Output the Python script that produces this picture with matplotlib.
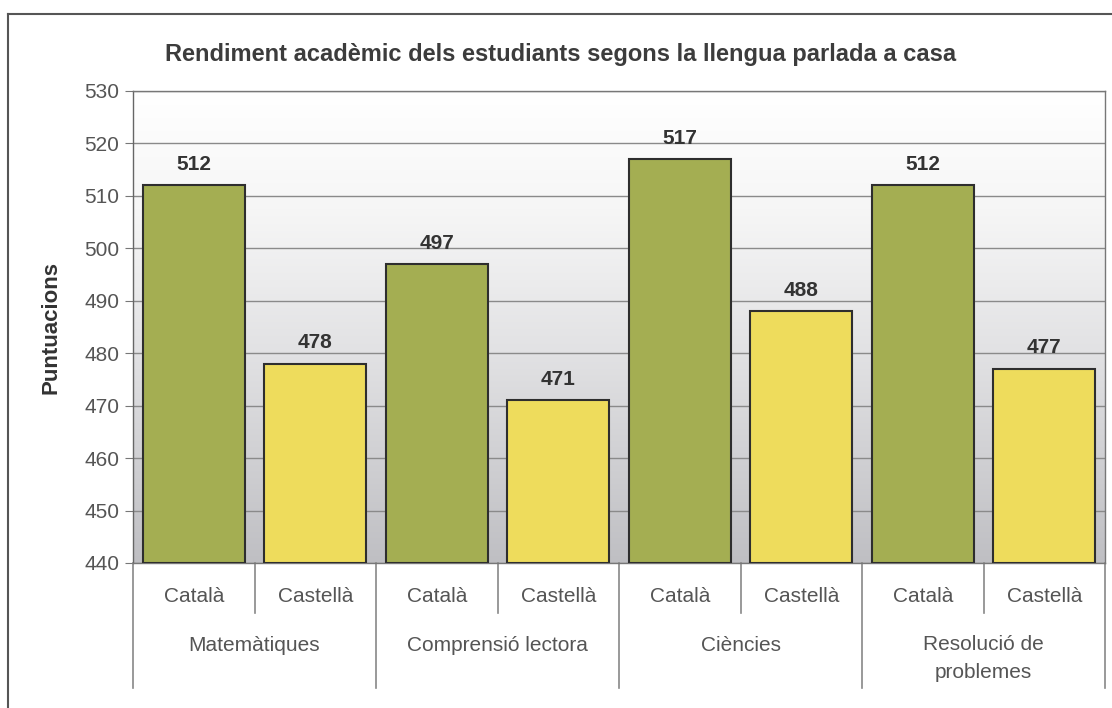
import numpy as np
import matplotlib
matplotlib.use("Agg")
import matplotlib.pyplot as plt
from matplotlib.lines import Line2D
from matplotlib.colors import LinearSegmentedColormap

plt.rcParams['font.family'] = ['Liberation Sans', 'DejaVu Sans']

title = "Rendiment acadèmic dels estudiants segons la llengua parlada a casa"
subjects = ["Matemàtiques", "Comprensió lectora", "Ciències", "Resolució de\nproblemes"]
languages = ["Català", "Castellà"]
values = [512, 478, 497, 471, 517, 488, 512, 477]
y_ticks = [440, 450, 460, 470, 480, 490, 500, 510, 520, 530]
y_label = "Puntuacions"

colors = ["#a4ae52", "#eedc5c"]

fig = plt.figure(figsize=(11.12, 7.08), dpi=100)
ax = fig.add_axes([133 / 1112, 1 - 563 / 708, 972 / 1112, 472 / 708])

n = len(values)
x = np.arange(n)
ax.set_xlim(-0.5, n - 0.5)
ax.set_ylim(y_ticks[0], y_ticks[-1])

# background gradient
cmap = LinearSegmentedColormap.from_list("bg", [(0.0, "#bfbfc3"), (0.45, "#e2e2e4"), (0.75, "#f6f6f6"), (1.0, "#ffffff")])
grad = np.linspace(0, 1, 256).reshape(-1, 1)
ax.imshow(grad, aspect='auto', cmap=cmap, origin='lower',
          extent=[-0.5, n - 0.5, y_ticks[0], y_ticks[-1]], zorder=0)

ax.set_yticks(y_ticks)
ax.yaxis.grid(True, color="#8a8a8a", linewidth=1.0, zorder=1)
ax.set_axisbelow(True)

bar_colors = [colors[i % 2] for i in range(n)]
bars = ax.bar(x, [v - y_ticks[0] for v in values], bottom=y_ticks[0], width=0.84,
              color=bar_colors, edgecolor="#2e2e2e", linewidth=1.5, zorder=3)

for xi, v in zip(x, values):
    ax.text(xi, v + 2.2, str(v), ha='center', va='bottom', fontsize=15,
            fontweight='bold', color="#333333", zorder=4)

ax.set_xticks([])
ax.tick_params(axis='y', direction='out', length=6, color="#777777",
               labelsize=15, labelcolor="#555555", pad=4)
for s in ax.spines.values():
    s.set_color("#777777")
    s.set_linewidth(1.0)
ax.spines['left'].set_color("#666666")

ax.set_ylabel(y_label, fontsize=16, fontweight='bold', color="#333333", labelpad=16)

tr = ax.get_xaxis_transform()
# language labels and inner separators
for i in range(n):
    ax.text(x[i], -0.072, languages[i % 2], transform=tr, ha='center', va='center',
            fontsize=15, color="#555555")
for i in range(n + 1):
    xb = i - 0.5
    if i % 2 == 0:
        ax.add_line(Line2D([xb, xb], [0, -0.265], transform=tr, color="#888888",
                           linewidth=1.2, clip_on=False))
    else:
        ax.add_line(Line2D([xb, xb], [0, -0.106], transform=tr, color="#888888",
                           linewidth=1.2, clip_on=False))
for j, s in enumerate(subjects):
    xc = 2 * j + 0.5
    if "\n" in s:
        ax.text(xc, -0.203, s, transform=tr, ha='center', va='center', fontsize=15,
                color="#555555", linespacing=1.6)
    else:
        ax.text(xc, -0.174, s, transform=tr, ha='center', va='center', fontsize=15,
                color="#555555")

fig.text(0.504, 1 - 55 / 708, title, ha='center', va='center', fontsize=17,
         fontweight='bold', color="#3c3c3c")

# figure frame (left and top)
fig.add_artist(Line2D([8 / 1112, 8 / 1112], [0, 1 - 14 / 708], transform=fig.transFigure,
                      color="#555555", linewidth=1.5))
fig.add_artist(Line2D([8 / 1112, 1], [1 - 14 / 708, 1 - 14 / 708], transform=fig.transFigure,
                      color="#555555", linewidth=1.5))

fig.savefig("out.png", dpi=100)
